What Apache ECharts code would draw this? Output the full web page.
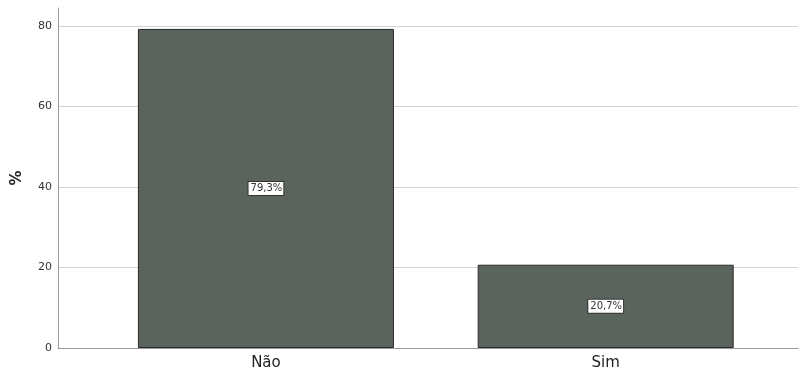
<!DOCTYPE html>
<html>
<head>
<meta charset="utf-8">
<script src="https://cdn.jsdelivr.net/npm/echarts@6/dist/echarts.min.js"></script>
<style>
  html, body { margin: 0; padding: 0; background: #fff; }
  #chart { width: 799px; height: 372px; }
</style>
</head>
<body>
<div id="chart"></div>
<script>
  // categorias e percentuais
  var categories = ['Não', 'Sim'];
  var percents = [79.3, 20.7];
  var yTicks = [0, 20, 40, 60, 80];

  var chart = echarts.init(document.getElementById('chart'));

  // barras num eixo de valores para posicionar como no original
  var barData = percents.map(function (v, i) { return [i, v]; });

  chart.setOption({
    animation: false,
    grid: { left: 58, right: 1, top: 8, bottom: 24, containLabel: false, outerBoundsMode: 'none' },
    xAxis: {
      type: 'value',
      min: -0.612,
      max: 1.566,
      splitLine: { show: false },
      axisTick: { show: false },
      axisLine: { show: true, onZero: false, lineStyle: { color: '#9a9a9a', width: 1 } },
      axisLabel: {
        customValues: [0, 1],
        formatter: function (v) { return categories[Math.round(v)]; },
        color: '#222',
        fontSize: 15,
        fontFamily: 'DejaVu Sans',
        margin: 8
      }
    },
    yAxis: {
      type: 'value',
      min: 0,
      max: 84.5,
      interval: 20,
      name: '%',
      nameLocation: 'middle',
      nameRotate: 90,
      nameGap: 33,
      nameTextStyle: { fontSize: 15, fontWeight: 'bold', color: '#222', fontFamily: 'DejaVu Sans' },
      axisTick: { show: false },
      axisLine: { show: true, onZero: false, lineStyle: { color: '#9a9a9a', width: 1 } },
      axisLabel: {
        customValues: yTicks,
        color: '#333',
        fontSize: 11,
        fontFamily: 'DejaVu Sans',
        margin: 6
      },
      splitLine: { show: true, showMaxLine: false, lineStyle: { color: '#d4d4d4', width: 1 } }
    },
    series: [{
      type: 'bar',
      data: barData,
      barWidth: 256,
      itemStyle: { color: '#5a645c', borderColor: '#2a2a2a', borderWidth: 1 },
      label: {
        show: true,
        position: 'inside',
        formatter: function (p) { return String(p.value[1]).replace('.', ',') + '%'; },
        color: '#333',
        fontSize: 10,
        fontFamily: 'DejaVu Sans',
        backgroundColor: '#fff',
        borderColor: '#333',
        borderWidth: 1,
        padding: [2, 1, 1, 2]
      }
    }]
  });
</script>
</body>
</html>
